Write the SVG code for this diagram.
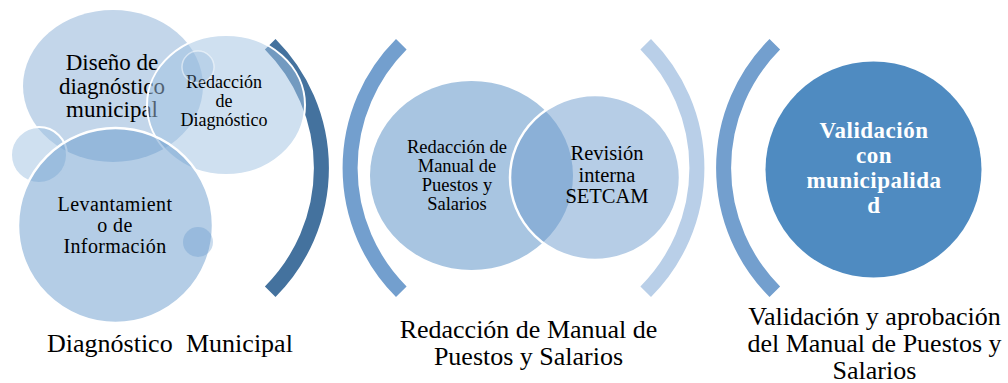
<svg xmlns="http://www.w3.org/2000/svg" width="1008" height="383" viewBox="0 0 1008 383">
<style>
.t{font-family:"Liberation Serif","Times New Roman",serif;fill:#000;text-anchor:middle}
.ts{font-family:"Liberation Serif","Times New Roman",serif;fill:#000}
.w{font-family:"Liberation Serif","Times New Roman",serif;fill:#fff;font-weight:bold;text-anchor:middle}
.arc{fill:none;stroke-width:15;stroke-linecap:butt}
</style>
<rect width="1008" height="383" fill="#fff"/>
<g id="brackets">
<path class="arc" d="M270.2,44.3 A175,175 0 0 1 270.2,291.7" stroke="#44729e"/>
<path class="arc" d="M401.3,44.3 A175,175 0 0 0 401.3,291.7" stroke="#739fce"/>
<path class="arc" d="M645.7,44.3 A175,175 0 0 1 645.7,291.7" stroke="#b9cfe8"/>
<path class="arc" d="M774.8,44.3 A175,175 0 0 0 774.8,291.7" stroke="#739fce"/>
</g>
<g id="node-diseno">
<ellipse cx="113" cy="86" rx="90" ry="76" fill="#c3d6ea"/>
<text class="t" font-size="23"><tspan x="112" y="70">Diseño de</tspan><tspan x="112" y="93.5">diagnóstico</tspan><tspan x="112" y="117">municipal</tspan></text>
</g>
<g id="node-small-left">
<circle cx="39" cy="155" r="28" fill="rgb(160,193,225)" fill-opacity="0.5" stroke="#fff" stroke-width="2"/>
</g>
<g id="node-redaccion-diag">
<ellipse cx="226" cy="105" rx="79" ry="70" fill="rgb(160,193,225)" fill-opacity="0.5" stroke="#fff" stroke-width="2"/>
<text class="t" font-size="18"><tspan x="224" y="88">Redacción</tspan><tspan x="224" y="107">de</tspan><tspan x="224" y="126">Diagnóstico</tspan></text>
</g>
<g id="node-levantamiento">
<circle cx="115.5" cy="225.5" r="97.5" fill="rgb(101,153,204)" fill-opacity="0.49" stroke="#fff" stroke-width="2.5"/>
<text class="t" font-size="20" letter-spacing="0.4"><tspan x="115" y="211">Levantamient</tspan><tspan x="115" y="232">o de</tspan><tspan x="115" y="253">Información</tspan></text>
</g>
<g id="node-small-top">
<circle cx="198" cy="67" r="16" fill="rgb(140,178,218)" fill-opacity="0.3" stroke="#fff" stroke-opacity="0.5" stroke-width="1.5"/>
</g>
<g id="node-small-right">
<circle cx="198" cy="242" r="15" fill="rgb(101,153,204)" fill-opacity="0.35"/>
</g>
<g id="node-redaccion-manual">
<ellipse cx="471.5" cy="175.5" rx="101.5" ry="94.5" fill="#a8c5e1"/>
<text class="t" font-size="18.5"><tspan x="457" y="152.5">Redacción de</tspan><tspan x="457" y="171.5">Manual de</tspan><tspan x="457" y="190.5">Puestos y</tspan><tspan x="457" y="209.5">Salarios</tspan></text>
</g>
<g id="node-revision">
<ellipse cx="595" cy="177.5" rx="85" ry="82.5" fill="rgb(110,155,205)" fill-opacity="0.5" stroke="#fff" stroke-width="2.5"/>
<text class="t" font-size="20.5"><tspan x="607" y="160">Revisión</tspan><tspan x="607" y="181.5">interna</tspan><tspan x="607" y="203">SETCAM</tspan></text>
</g>
<g id="node-validacion">
<circle cx="873.5" cy="169.5" r="108" fill="#4f8bc1"/>
<text class="w" font-size="23" letter-spacing="0.5"><tspan x="874" y="138">Validación</tspan><tspan x="874" y="163">con</tspan><tspan x="874" y="188">municipalida</tspan><tspan x="874" y="213">d</tspan></text>
</g>
<g id="label-diagnostico">
<text class="ts" font-size="26" x="47" y="352">Diagnóstico</text>
<text class="ts" font-size="26" x="186" y="352">Municipal</text>
</g>
<g id="label-redaccion">
<text class="t" font-size="26"><tspan x="528.5" y="338">Redacción de Manual de</tspan><tspan x="528.5" y="365">Puestos y Salarios</tspan></text>
</g>
<g id="label-validacion">
<text class="t" font-size="26"><tspan x="874.5" y="325">Validación y aprobación</tspan><tspan x="874.5" y="352">del Manual de Puestos y</tspan><tspan x="874.5" y="379">Salarios</tspan></text>
</g>
</svg>
